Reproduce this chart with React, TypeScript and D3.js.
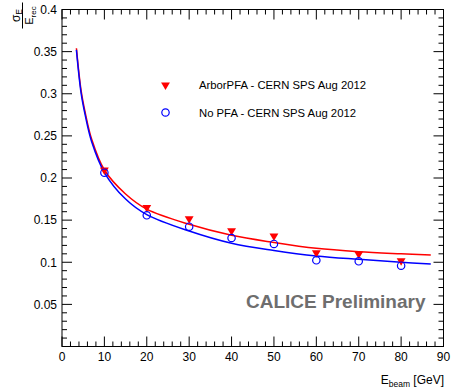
import React, { useRef, useEffect } from 'react';
import * as d3 from 'd3';

// beam energies of the test beam runs (GeV)
const energies = [10, 20, 30, 40, 50, 60, 70, 80];
// measured resolution sigma_E / E_rec
const arborRes = [0.2095, 0.165, 0.1517, 0.1374, 0.1312, 0.1113, 0.1098, 0.1018];
const noPfaRes = [0.2063, 0.1557, 0.1422, 0.1288, 0.1217, 0.1023, 0.1011, 0.0959];

// fitted curves
const fitEnergies = [3.4, 4.5, 5.5, 7, 10, 15, 20, 30, 40, 50, 60, 70, 80, 87];
const arborFit = [0.354, 0.304, 0.277, 0.246, 0.2095, 0.181, 0.163, 0.145, 0.132, 0.1235, 0.1165, 0.1125, 0.1100, 0.1085];
const noPfaFit = [0.352, 0.301, 0.274, 0.243, 0.2065, 0.175, 0.1565, 0.137, 0.1225, 0.114, 0.1075, 0.1035, 0.1000, 0.0980];

const xMajor = [0, 10, 20, 30, 40, 50, 60, 70, 80, 90];
const yMajor = [0.05, 0.1, 0.15, 0.2, 0.25, 0.3, 0.35, 0.4];

const legendLabels = ['ArborPFA - CERN SPS Aug 2012', 'No PFA - CERN SPS Aug 2012'];

const WIDTH = 452;
const HEIGHT = 388;
const FONT = '"Liberation Sans", Arial, Helvetica, sans-serif';

const ResolutionChart: React.FC = () => {
  const svgRef = useRef<SVGSVGElement>(null);

  useEffect(() => {
    if (!svgRef.current) return;
    const svg = d3.select(svgRef.current);
    svg.selectAll('*').remove();

    const frame = { left: 62, right: 443.5, top: 9.5, bottom: 346.5 };

    const x = d3.scaleLinear().domain([0, 90]).range([frame.left, frame.right]);
    const y = d3.scaleLinear().domain([0, 0.4]).range([frame.bottom, frame.top]);

    svg.append('rect')
      .attr('width', WIDTH)
      .attr('height', HEIGHT)
      .attr('fill', '#fff');

    // minor / major ticks on all four sides
    const ticks = svg.append('g').attr('stroke', '#000').attr('stroke-width', 1);
    const xMinor = d3.range(0, 90.001, 2);
    xMinor.forEach(v => {
      const len = v % 10 === 0 ? 10 : 5;
      const px = x(v);
      ticks.append('line').attr('x1', px).attr('x2', px).attr('y1', frame.bottom).attr('y2', frame.bottom - len);
      ticks.append('line').attr('x1', px).attr('x2', px).attr('y1', frame.top).attr('y2', frame.top + len);
    });
    const yMinor = d3.range(0, 0.4001, 0.01);
    yMinor.forEach((v, i) => {
      const len = i % 5 === 0 ? 10 : 5;
      const py = y(v);
      ticks.append('line').attr('x1', frame.left).attr('x2', frame.left + len).attr('y1', py).attr('y2', py);
      ticks.append('line').attr('x1', frame.right).attr('x2', frame.right - len).attr('y1', py).attr('y2', py);
    });

    svg.append('rect')
      .attr('x', frame.left)
      .attr('y', frame.top)
      .attr('width', frame.right - frame.left)
      .attr('height', frame.bottom - frame.top)
      .attr('fill', 'none')
      .attr('stroke', '#000')
      .attr('stroke-width', 1);

    // tick labels
    svg.append('g')
      .selectAll('text')
      .data(xMajor)
      .enter()
      .append('text')
      .attr('x', d => x(d))
      .attr('y', 361)
      .attr('text-anchor', 'middle')
      .style('font-family', FONT)
      .style('font-size', '12px')
      .text(d => d);

    svg.append('g')
      .selectAll('text')
      .data(yMajor)
      .enter()
      .append('text')
      .attr('x', 57)
      .attr('y', d => y(d) + 4.3)
      .attr('text-anchor', 'end')
      .style('font-family', FONT)
      .style('font-size', '12px')
      .text(d => d3.format('~g')(d));

    // x axis title
    const xt = svg.append('text')
      .attr('x', 444)
      .attr('y', 384)
      .attr('text-anchor', 'end')
      .style('font-family', FONT)
      .style('font-size', '12px');
    xt.append('tspan').text('E');
    xt.append('tspan').attr('dy', 3).style('font-size', '8.5px').text('beam');
    xt.append('tspan').attr('dy', -3).text(' [GeV]');

    // y axis title: sigma_E / E_rec, rotated
    const yt = svg.append('g').attr('transform', 'translate(22.5,15.5) rotate(-90)');
    yt.append('line')
      .attr('x1', -13).attr('x2', 13)
      .attr('y1', 0).attr('y2', 0)
      .attr('stroke', '#000').attr('stroke-width', 1);
    const num = yt.append('text')
      .attr('x', 0).attr('y', -3)
      .attr('text-anchor', 'middle')
      .style('font-family', FONT)
      .style('font-size', '12px');
    num.append('tspan').text('σ');
    num.append('tspan').attr('dy', 2.5).style('font-size', '8.5px').text('E');
    const den = yt.append('text')
      .attr('x', 0).attr('y', 10.5)
      .attr('text-anchor', 'middle')
      .style('font-family', FONT)
      .style('font-size', '11px');
    den.append('tspan').text('E');
    den.append('tspan').attr('dy', 2.5).style('font-size', '8px').text('rec');

    // fitted curves
    const line = d3.line<[number, number]>()
      .x(d => x(d[0]))
      .y(d => y(d[1]))
      .curve(d3.curveCatmullRom.alpha(0.5));

    svg.append('path')
      .datum(fitEnergies.map((e, i) => [e, arborFit[i]] as [number, number]))
      .attr('d', line)
      .attr('fill', 'none')
      .attr('stroke', '#ff0000')
      .attr('stroke-width', 1.5);

    svg.append('path')
      .datum(fitEnergies.map((e, i) => [e, noPfaFit[i]] as [number, number]))
      .attr('d', line)
      .attr('fill', 'none')
      .attr('stroke', '#0000ff')
      .attr('stroke-width', 1.5);

    // markers
    const triangle = d3.symbol().type(d3.symbolTriangle).size(34);

    svg.append('g')
      .selectAll('path')
      .data(energies.map((e, i) => [e, arborRes[i]]))
      .enter()
      .append('path')
      .attr('d', triangle)
      .attr('transform', d => `translate(${x(d[0])},${y(d[1])}) rotate(180)`)
      .attr('fill', '#ff0000');

    svg.append('g')
      .selectAll('circle')
      .data(energies.map((e, i) => [e, noPfaRes[i]]))
      .enter()
      .append('circle')
      .attr('cx', d => x(d[0]))
      .attr('cy', d => y(d[1]))
      .attr('r', 3.7)
      .attr('fill', 'none')
      .attr('stroke', '#0000ff')
      .attr('stroke-width', 1.2);

    // legend
    const lg = svg.append('g');
    lg.append('path')
      .attr('d', triangle)
      .attr('transform', 'translate(165.5,85) rotate(180)')
      .attr('fill', '#ff0000');
    lg.append('circle')
      .attr('cx', 165.5).attr('cy', 112.5).attr('r', 3.7)
      .attr('fill', 'none').attr('stroke', '#0000ff').attr('stroke-width', 1.2);
    legendLabels.forEach((t, i) => {
      lg.append('text')
        .attr('x', 199)
        .attr('y', 89 + i * 27.5)
        .style('font-family', FONT)
        .style('font-size', '11.3px')
        .text(t);
    });

    svg.append('text')
      .attr('x', 246)
      .attr('y', 308)
      .style('font-family', FONT)
      .style('font-size', '19px')
      .style('font-weight', 'bold')
      .attr('fill', '#6e6e6e')
      .text('CALICE Preliminary');
  }, []);

  return (
    <svg
      ref={svgRef}
      width={WIDTH}
      height={HEIGHT}
      style={{ position: 'absolute', left: 0, top: 0, display: 'block' }}
    />
  );
};

export default function App() {
  return <ResolutionChart />;
}
